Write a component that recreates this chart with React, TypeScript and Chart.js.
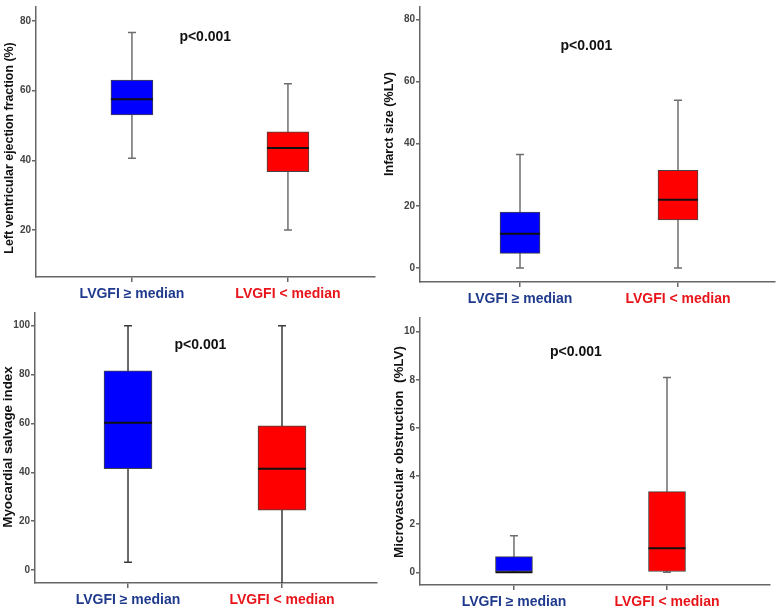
import React, { useEffect, useRef } from "react";
import { Chart, registerables } from "chart.js";

Chart.register(...registerables);

// ---- data ----
const categories = ["LVGFI \u2265 median", "LVGFI < median"];
const categoryColors = ["#1f3a8c", "#e8141a"];
const boxColors = ["#0000ff", "#ff0000"];

const lvefMin = [40.6, 20];
const lvefQ1 = [53, 36.7];
const lvefMed = [57.5, 43.5];
const lvefQ3 = [63, 48.2];
const lvefMax = [76.7, 62];
const lvefTicks = [20, 40, 60, 80];

const infMin = [0, 0];
const infQ1 = [4.7, 15.5];
const infMed = [11, 22];
const infQ3 = [18, 31.4];
const infMax = [36.5, 54];
const infTicks = [0, 20, 40, 60, 80];

const msiMin = [3.2, -6];
const msiQ1 = [41.5, 24.5];
const msiMed = [60.3, 41.5];
const msiQ3 = [81.5, 59];
const msiMax = [100, 100];
const msiTicks = [0, 20, 40, 60, 80, 100];

const mvoMin = [0, 0];
const mvoQ1 = [0, 0];
const mvoMed = [0, 1.0];
const mvoQ3 = [0.65, 3.35];
const mvoMax = [1.52, 8.1];
const mvoTicks = [0, 2, 4, 6, 8, 10];

const pLabel = "p<0.001";
const FONT = "'Liberation Sans', Arial, sans-serif";

type Panel = {
  title: string;
  min: number[]; q1: number[]; med: number[]; q3: number[]; max: number[];
  ticks: number[];
  yMin: number; yMax: number; xMin: number; xMax: number;
  boxW: number; whiskerColor: string;
  left: number; top: number; w: number; h: number;
  padTop: number; padRight: number; yW: number; xH: number;
  titleX: number; titleY: number; titleSize: number;
  pX: number; pY: number;
};

const panels: Panel[] = [
  {
    title: "Left ventricular ejection fraction (%)",
    min: lvefMin, q1: lvefQ1, med: lvefMed, q3: lvefQ3, max: lvefMax, ticks: lvefTicks,
    yMin: 6.5, yMax: 84, xMin: 0.385, xMax: 2.558, boxW: 42, whiskerColor: "#6e6e6e",
    left: 0, top: 0, w: 388, h: 310, padTop: 5, padRight: 13, yW: 36, xH: 33,
    titleX: 9.5, titleY: 148, titleSize: 12.4,
    pX: 1.47, pY: 75.4,
  },
  {
    title: "Infarct size (%LV)",
    min: infMin, q1: infQ1, med: infMed, q3: infQ3, max: infMax, ticks: infTicks,
    yMin: -4.5, yMax: 84, xMin: 0.367, xMax: 2.614, boxW: 40, whiskerColor: "#6e6e6e",
    left: 378, top: 0, w: 400, h: 310, padTop: 3, padRight: 3, yW: 42, xH: 28,
    titleX: 11.5, titleY: 124, titleSize: 12.6,
    pX: 1.42, pY: 71.4,
  },
  {
    title: "Myocardial salvage index",
    min: msiMin, q1: msiQ1, med: msiMed, q3: msiQ3, max: msiMax, ticks: msiTicks,
    yMin: -5.3, yMax: 105.2, xMin: 0.396, xMax: 2.617, boxW: 48, whiskerColor: "#3a3a3a",
    left: 0, top: 300, w: 388, h: 310, padTop: 13, padRight: 11, yW: 35, xH: 27,
    titleX: 8.5, titleY: 147, titleSize: 13.4,
    pX: 1.47, pY: 92.1,
  },
  {
    title: "Microvascular obstruction  (%LV)",
    min: mvoMin, q1: mvoQ1, med: mvoMed, q3: mvoQ3, max: mvoMax, ticks: mvoTicks,
    yMin: -0.53, yMax: 10.57, xMin: 0.386, xMax: 2.673, boxW: 37, whiskerColor: "#6e6e6e",
    left: 378, top: 300, w: 400, h: 310, padTop: 18, padRight: 8, yW: 42, xH: 25,
    titleX: 21.5, titleY: 152, titleSize: 13.4,
    pX: 1.405, pY: 9.16,
  },
];

function makeBoxPlugin(p: Panel) {
  return {
    id: "boxExtras",
    beforeDatasetsDraw(chart: any) {
      const { ctx, chartArea, scales } = chart;
      const xs = scales.x, ys = scales.y;
      ctx.save();
      ctx.beginPath();
      ctx.rect(chartArea.left, chartArea.top, chartArea.right - chartArea.left, chartArea.bottom - chartArea.top);
      ctx.clip();
      ctx.strokeStyle = p.whiskerColor;
      ctx.lineWidth = 1.5;
      for (let i = 0; i < categories.length; i++) {
        const x = xs.getPixelForValue(i + 1);
        const yLo = ys.getPixelForValue(p.min[i]);
        const yHi = ys.getPixelForValue(p.max[i]);
        ctx.beginPath();
        ctx.moveTo(x, yLo);
        ctx.lineTo(x, yHi);
        ctx.stroke();
        const cap = 4;
        ctx.beginPath();
        ctx.moveTo(x - cap, yLo);
        ctx.lineTo(x + cap, yLo);
        ctx.moveTo(x - cap, yHi);
        ctx.lineTo(x + cap, yHi);
        ctx.stroke();
      }
      ctx.restore();
    },
    afterDatasetsDraw(chart: any) {
      const { ctx, scales } = chart;
      const xs = scales.x, ys = scales.y;
      ctx.save();
      ctx.strokeStyle = "#111";
      ctx.lineWidth = 2;
      for (let i = 0; i < categories.length; i++) {
        const x = xs.getPixelForValue(i + 1);
        const y = ys.getPixelForValue(p.med[i]);
        ctx.beginPath();
        ctx.moveTo(x - p.boxW / 2, y);
        ctx.lineTo(x + p.boxW / 2, y);
        ctx.stroke();
      }
      ctx.fillStyle = "#111";
      ctx.font = `bold 14px ${FONT}`;
      ctx.textAlign = "center";
      ctx.textBaseline = "middle";
      ctx.fillText(pLabel, xs.getPixelForValue(p.pX), ys.getPixelForValue(p.pY));
      // y-axis title
      ctx.translate(p.titleX, p.titleY);
      ctx.rotate(-Math.PI / 2);
      ctx.font = `bold ${p.titleSize}px ${FONT}`;
      ctx.fillText(p.title, 0, 0);
      ctx.restore();
    },
  };
}

function PanelChart({ p }: { p: Panel }) {
  const ref = useRef<HTMLCanvasElement | null>(null);
  useEffect(() => {
    if (!ref.current) return;
    const chart = new Chart(ref.current, {
      type: "bar",
      data: {
        datasets: [
          {
            data: categories.map((_, i) => ({ x: i + 1, y: [p.q1[i], p.q3[i]] })) as any,
            backgroundColor: boxColors,
            borderColor: "#444",
            borderWidth: 1,
            borderSkipped: false,
            barThickness: p.boxW,
          } as any,
        ],
      },
      options: {
        responsive: false,
        animation: false,
        layout: { padding: { left: 0, top: p.padTop, right: p.padRight, bottom: 0 } },
        plugins: { legend: { display: false }, tooltip: { enabled: false } },
        scales: {
          x: {
            type: "linear",
            min: p.xMin,
            max: p.xMax,
            offset: false,
            afterBuildTicks: (s: any) => { s.ticks = [{ value: 1 }, { value: 2 }]; },
            afterFit: (s: any) => { s.height = p.xH; },
            grid: { offset: false, drawOnChartArea: false, drawTicks: true, tickLength: 5, color: "#666", lineWidth: 1.5 },
            border: { display: true, color: "#666", width: 1.5 },
            ticks: {
              autoSkip: false,
              maxRotation: 0,
              padding: 4,
              callback: (_v: any, i: number) => categories[i],
              color: (c: any) => categoryColors[c.index] || "#333",
              font: { family: FONT, size: 14, weight: "bold" },
            },
          },
          y: {
            type: "linear",
            min: p.yMin,
            max: p.yMax,
            afterBuildTicks: (s: any) => { s.ticks = p.ticks.map((v) => ({ value: v })); },
            afterFit: (s: any) => { s.width = p.yW; },
            grid: { drawOnChartArea: false, drawTicks: true, tickLength: 4, color: "#666", lineWidth: 1.5 },
            border: { display: true, color: "#666", width: 1.5 },
            ticks: {
              padding: 1,
              color: "#444",
              font: { family: FONT, size: 10, weight: "bold" },
            },
          },
        },
      } as any,
      plugins: [makeBoxPlugin(p)],
    });
    return () => chart.destroy();
  }, [p]);
  return (
    <canvas
      ref={ref}
      width={p.w}
      height={p.h}
      style={{ position: "absolute", left: p.left, top: p.top, width: p.w, height: p.h }}
    />
  );
}

export default function App() {
  useEffect(() => {
    document.body.style.margin = "0";
  }, []);
  return (
    <div style={{ position: "relative", width: 778, height: 610, background: "#fff", overflow: "hidden" }}>
      {panels.map((p, i) => (
        <PanelChart key={i} p={p} />
      ))}
    </div>
  );
}
